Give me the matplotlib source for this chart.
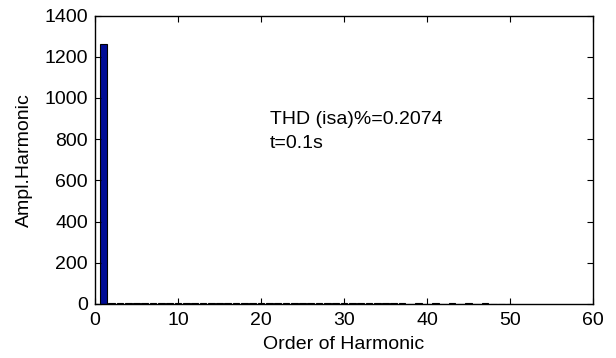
import matplotlib
matplotlib.use("Agg")
import matplotlib.pyplot as plt

plt.rcParams['font.family'] = ['Liberation Sans', 'DejaVu Sans']

orders = list(range(0, 51))
amplitudes = [0.5, 1262.0] + [4.5, 4.0, 3.8, 4.2, 3.6, 3.9, 3.4, 3.7, 3.2,
                              3.5, 3.1, 3.6, 3.0, 3.3, 2.9, 3.4, 2.9, 3.2, 2.8,
                              3.1, 2.8, 3.2, 2.7, 3.0, 2.7, 3.0, 2.6, 2.9, 2.6,
                              2.9, 2.5, 2.8, 2.5, 2.8, 2.5, 2.7, 2.4, 2.7, 2.4,
                              2.6, 2.4, 2.6, 2.3, 2.5, 2.3, 2.5, 2.3, 2.4, 2.2]
x_ticks = [0, 10, 20, 30, 40, 50, 60]
y_ticks = [0, 200, 400, 600, 800, 1000, 1200, 1400]
annotation_lines = ["THD (isa)%=0.2074", "t=0.1s"]

fig = plt.figure(figsize=(6.16, 3.58), dpi=100)
L, R, T, B = 95, 593, 15.5, 304
ax = fig.add_axes([L/616, 1 - B/358, (R-L)/616, (B-T)/358])
ax.bar(orders, amplitudes, width=0.8, color='#000c96', edgecolor='black', linewidth=0.8)
ax.set_xlim(0, 60)
ax.set_ylim(0, 1400)
ax.set_xticks(x_ticks)
ax.set_yticks(y_ticks)
ax.tick_params(direction='in', top=True, right=True, labelsize=14, length=4, width=0.8)
ax.tick_params(axis='x', pad=6)
ax.tick_params(axis='y', pad=5)
for s in ax.spines.values():
    s.set_linewidth(1.0)
ax.set_xlabel('Order of Harmonic', fontsize=14, labelpad=5)
ax.set_ylabel('Ampl.Harmonic', fontsize=14, labelpad=8)
ax.text(21.1, 874, annotation_lines[0], fontsize=14, va='baseline', ha='left')
ax.text(21.1, 757, annotation_lines[1], fontsize=14, va='baseline', ha='left')
fig.savefig('out.png', dpi=100)
